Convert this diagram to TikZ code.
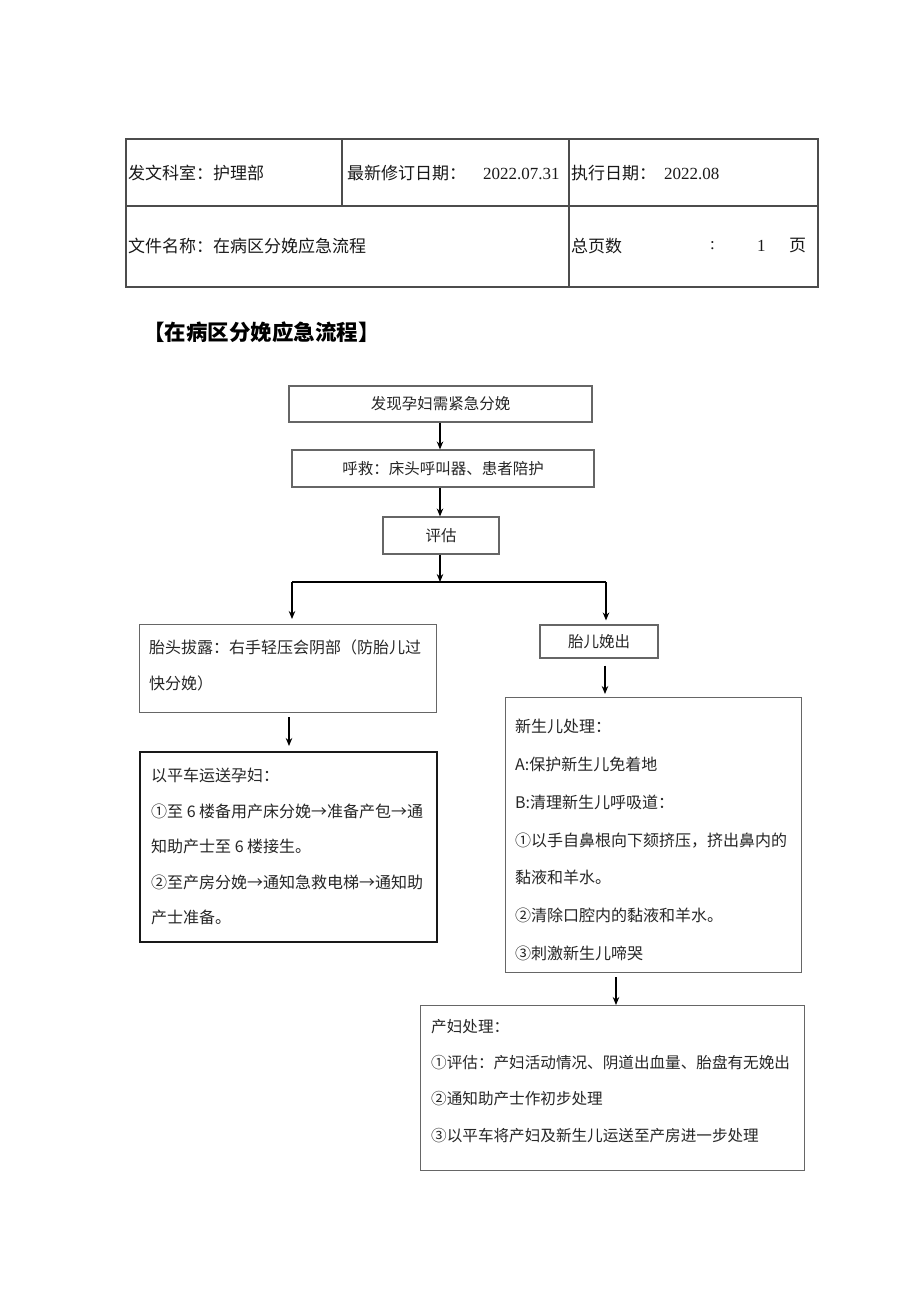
\documentclass[tikz,border=0pt]{standalone}
\usepackage{fontspec}
\newfontfamily\cjk{Noto Sans CJK SC}
\newfontfamily\latinf{Liberation Serif}
\usetikzlibrary{arrows.meta}
\begin{document}
\begin{tikzpicture}[x=1pt,y=-1pt,
  tline/.style={draw=black!70, line width=1.1pt},
  ttxt/.style={font=\cjk\fontsize{17}{20}\selectfont, text=black!90, inner sep=0pt, anchor=west},
  box/.style={draw=black!60, line width=1.1pt, rectangle, inner sep=0pt, font=\cjk\fontsize{15.5}{20}\selectfont, text=black!85},
  boxdark/.style={draw=black!90, line width=1.8pt, rectangle, inner sep=0pt},
  btxt/.style={font=\cjk\fontsize{16}{36}\selectfont, text=black!85, inner sep=0pt, anchor=north west, align=left},
  arr/.style={-{Stealth[length=8pt,width=6.5pt]}, line width=1.3pt, draw=black},
  plain/.style={line width=1.3pt, draw=black}
]
\useasboundingbox (0,0) rectangle (920,1301);
\fill[white] (0,0) rectangle (920,1301);

% header table
\draw[tline] (126,139) rectangle (818,287);
\draw[tline] (126,206) -- (818,206);
\draw[tline] (342,139) -- (342,206);
\draw[tline] (569,139) -- (569,287);
\node[ttxt] (t1) at (128,173) {发文科室：护理部};
\node[ttxt] (t2) at (347,173) {最新修订日期：\hspace{17pt}{\latinf 2022.07.31}};
\node[ttxt] (t3) at (571,173) {执行日期：\hspace{8pt}{\latinf 2022.08}};
\node[ttxt] (t4) at (128,246) {文件名称：在病区分娩应急流程};
\node[ttxt] (t5) at (571,246) {总页数};
\node[ttxt] (t6) at (710,246) {{\latinf :}};
\node[ttxt] (t7) at (757,246) {{\latinf 1}};
\node[ttxt] (t8) at (789,246) {页};

% title
\node[font=\cjk\fontsize{21.5}{24}\selectfont\bfseries, inner sep=0pt, anchor=west] (title) at (143,332) {【在病区分娩应急流程】};

% flow boxes
\node[box, minimum width=303, minimum height=36] (b1) at (440.5,404) {发现孕妇需紧急分娩};
\node[box, minimum width=302, minimum height=37] (b2) at (443,468.5) {呼救：床头呼叫器、患者陪护};
\node[box, minimum width=116, minimum height=37] (b3) at (441,535.5) {评估};

\node[box, minimum width=297, minimum height=88, anchor=north west] (a) at (139,624) {};
\node[btxt] (atext) at (149,640) {胎头拔露：右手轻压会阴部（防胎儿过\\快分娩）};

\node[boxdark, minimum width=297, minimum height=190, anchor=north west] (bb) at (139,751) {};
\node[btxt, font=\cjk\fontsize{16}{35.5}\selectfont] (bbtext) at (151,768) {以平车运送孕妇：\\①至 6 楼备用产床分娩→准备产包→通\\知助产士至 6 楼接生。\\②至产房分娩→通知急救电梯→通知助\\产士准备。};

\node[box, minimum width=118, minimum height=33] (c) at (599,641.5) {胎儿娩出};

\node[box, minimum width=296, minimum height=275, anchor=north west] (d) at (505,697) {};
\node[btxt, font=\cjk\fontsize{16}{37.8}\selectfont] (dtext) at (515,719) {新生儿处理：\\A:保护新生儿免着地\\B:清理新生儿呼吸道：\\①以手自鼻根向下颏挤压，挤出鼻内的\\黏液和羊水。\\②清除口腔内的黏液和羊水。\\③刺激新生儿啼哭};

\node[box, minimum width=384, minimum height=165, anchor=north west] (e) at (420,1005) {};
\node[btxt, font=\cjk\fontsize{15.6}{36.3}\selectfont] (etext) at (431,1019) {产妇处理：\\①评估：产妇活动情况、阴道出血量、胎盘有无娩出\\②通知助产士作初步处理\\③以平车将产妇及新生儿运送至产房进一步处理};

% connectors
\coordinate (sp) at (440,582);
\coordinate (hl) at (292,582);
\coordinate (hr) at (606,582);
\coordinate (xa) at (289,0);
\coordinate (xc) at (605,0);
\coordinate (xd) at (616,0);
\draw[arr] (b1.south -| sp) -- (sp |- b2.north);
\draw[arr] (b2.south -| sp) -- (sp |- b3.north);
\draw[arr] (b3.south -| sp) -- (sp);
\draw[plain] (hl) -- (hr);
\draw[arr, shorten >=5pt] (hl) -- (hl |- a.north);
\draw[arr, shorten >=4pt] (hr) -- (hr |- c.north);
\draw[arr, shorten <=4pt, shorten >=5pt] (a.south -| xa) -- (xa |- bb.north);
\draw[arr, shorten <=7pt, shorten >=3pt] (c.south -| xc) -- (xc |- d.north);
\draw[arr, shorten <=4pt] (d.south -| xd) -- (xd |- e.north);
\end{tikzpicture}
\end{document}
